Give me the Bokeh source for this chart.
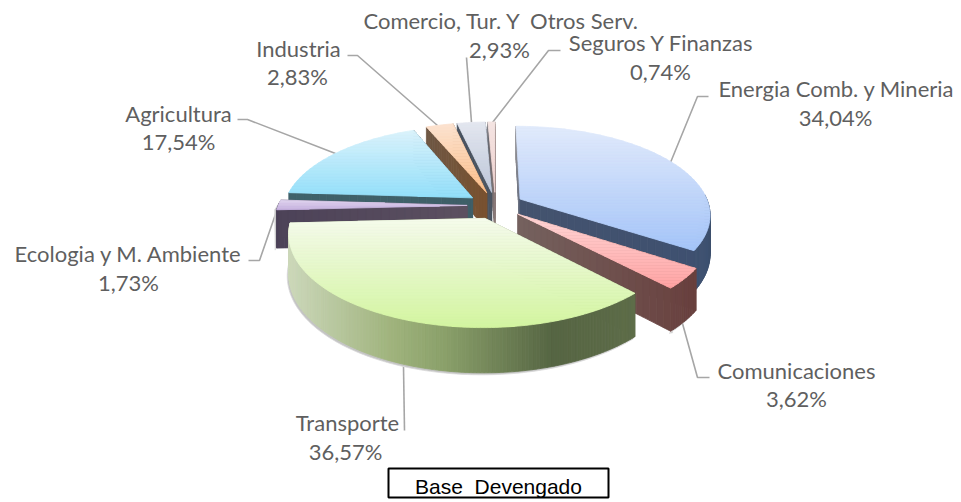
import math
from bokeh.plotting import figure
from bokeh.models import ColumnDataSource
from bokeh.core.properties import value
from bokeh.embed import file_html
from bokeh.resources import INLINE

categories = ["Energia Comb. y Mineria", "Comunicaciones", "Transporte", "Ecologia y M. Ambiente",
              "Agricultura", "Industria", "Comercio, Tur. Y\u00a0 Otros Serv.", "Seguros Y Finanzas"]
shares = [34.04, 3.62, 36.57, 1.73, 17.54, 2.83, 2.93, 0.74]
share_labels = ["34,04%", "3,62%", "36,57%", "1,73%", "17,54%", "2,83%", "2,93%", "0,74%"]
note = "Base\u00a0 Devengado"

# colours: top face gradient (top, bottom), wall gradient stops across the slice's width
top_colors = [("#e1eafb", "#a4c4f8"), ("#ffd6d6", "#ffa3a3"), ("#f5fbec", "#d3f5a0"), ("#e0d4ee", "#c6b2de"),
              ("#dbf2fb", "#92dffa"), ("#fbe2d0", "#fdbf8a"), ("#e4e7ef", "#bcc6d8"), ("#f4e4e2", "#eed0ce")]
wall_colors = [
    [(0, "#8c8c92"), (0.03, "#44536e"), (1, "#3e5070")],
    [(0, "#75625f"), (1, "#69403e")],
    [(0, "#ccd8ba"), (0.3, "#9fb37c"), (0.45, "#8aa06a"), (0.76, "#566543"), (1, "#5e6d49")],
    [(0, "#4c4258"), (1, "#5c5060")],
    [(0, "#3f626b"), (1, "#3f5f68")],
    [(0, "#6e5744"), (1, "#7a5230")],
    [(0, "#47515e"), (1, "#4c5662")],
    [(0, "#6a6a70"), (1, "#8a7a78")],
]
draw_order = [7, 6, 5, 4, 0, 3, 1, 2]

# label placement in page pixels: (name x, name y, share x, share y)
label_pos = [(836, 88, 835, 117), (796, 370, 796, 398), (347, 422, 345, 451), (128, 253, 128, 282),
             (178, 113, 178, 141), (298, 48, 297, 76), (501, 20, 499, 49), (661, 42, 660, 71)]
leaders = [[(708, 96), (697, 96), (670, 162)], [(709, 377), (697, 377), (682, 323)], [(403, 366), (404, 430)],
           [(248, 260), (259, 260), (278, 205)], [(237, 119), (247, 119), (335, 153)],
           [(347, 55), (357, 55), (437, 125)], [(466, 57), (471, 122)], [(560, 50), (548, 50), (492, 122)]]

CX, CY, RX, RY, DEPTH, K, EXPLODE = 495, 205, 189, 90, 38, 0.167, 0.15


def proj(u, v, z=0.0):
    s = 1 + K * v
    return CX + RX * u * s, CY + RY * v * s + DEPTH * z * s


def rgb(h):
    return tuple(int(h[i:i + 2], 16) for i in (1, 3, 5))


def mix(a, b, t):
    ca, cb = rgb(a), rgb(b)
    return "#%02x%02x%02x" % tuple(round(ca[i] + (cb[i] - ca[i]) * t) for i in range(3))


def ramp(stops, t):
    t = max(0, min(1, t))
    for (t0, c0), (t1, c1) in zip(stops, stops[1:]):
        if t <= t1:
            return mix(c0, c1, (t - t0) / max(t1 - t0, 1e-6))
    return stops[-1][1]


def clip(poly, y, keep_below):
    out = []
    for i, a in enumerate(poly):
        b = poly[(i + 1) % len(poly)]
        ia = (a[1] >= y) == keep_below
        ib = (b[1] >= y) == keep_below
        if ia:
            out.append(a)
        if ia != ib:
            t = (y - a[1]) / (b[1] - a[1])
            out.append((a[0] + (b[0] - a[0]) * t, y))
    return out


xs, ys, cols, lcols = [], [], [], []


def add(poly, c, lc=None):
    xs.append([q[0] for q in poly])
    ys.append([q[1] for q in poly])
    cols.append(c)
    lcols.append(lc or c)


total = sum(shares)
starts = []
acc = 0.0
for s in shares:
    starts.append(acc)
    acc += s

for i in draw_order:
    a0 = 2 * math.pi * starts[i] / total
    a1 = 2 * math.pi * (starts[i] + shares[i]) / total
    am = (a0 + a1) / 2
    eu, ev = EXPLODE * math.sin(am), -EXPLODE * math.cos(am)
    n = max(6, int((a1 - a0) * 60))
    angles = [a0 + (a1 - a0) * k / n for k in range(n + 1)]
    rim = [(eu + math.sin(a), ev - math.cos(a)) for a in angles]
    top = [proj(eu, ev)] + [proj(u, v) for u, v in rim]
    xa = [q[0] for q in top]
    x_lo, x_hi = min(xa), max(xa)
    wall = wall_colors[i]

    def wc(x):
        return ramp(wall, (x - x_lo) / max(x_hi - x_lo, 1))

    # soft edge beneath the rim
    front = [r for r, a in zip(rim, angles) if math.cos(a) < 0.05]
    if len(front) > 1:
        low = [proj(u, v, 1) for u, v in front]
        add([(x - 2, y) for x, y in [proj(*front[0])]] + [(x - 1.5, y + 2) for x, y in low]
            + [(low[-1][0] + 2, low[-1][1] + 1.5)] + [proj(*front[-1])], "#c4c4c4", "#dadada")
    # cut walls
    for end in (rim[0], rim[-1]):
        m = 24
        for k in range(m):
            t0, t1 = k / m, (k + 1) / m
            p0 = (eu + (end[0] - eu) * t0, ev + (end[1] - ev) * t0)
            p1 = (eu + (end[0] - eu) * t1, ev + (end[1] - ev) * t1)
            q = [proj(*p0), proj(*p1), proj(*p1, 1), proj(*p0, 1)]
            add(q, wc(sum(c[0] for c in q) / 4))
    # outer wall
    for k in range(n):
        if math.cos((angles[k] + angles[k + 1]) / 2) < 0.05:
            q = [proj(*rim[k]), proj(*rim[k + 1]), proj(*rim[k + 1], 1), proj(*rim[k], 1)]
            add(q, wc(sum(c[0] for c in q) / 4))
    # top face, banded vertically
    ya = [q[1] for q in top]
    y_lo, y_hi = min(ya), max(ya)
    c_top, c_bot = top_colors[i]
    y = y_lo
    while y < y_hi:
        band = clip(clip(top, y, True), y + 3, False)
        if len(band) >= 3:
            add(band, mix(c_top, c_bot, (y + 1.5 - y_lo) / max(y_hi - y_lo, 1)))
        y += 3

p = figure(width=961, height=502, x_range=(0, 961), y_range=(502, 0), output_backend="svg",
           toolbar_location=None, min_border=0, outline_line_color=None, background_fill_color="white")
p.axis.visible = False
p.grid.visible = False

for line in leaders:
    p.line([q[0] for q in line], [q[1] for q in line], line_color="#a6a6a6", line_width=1.6)

p.patches("x", "y", fill_color="c", line_color="l", line_width=0.8,
          source=ColumnDataSource(dict(x=xs, y=ys, c=cols, l=lcols)))

tx = [q[0] for q in label_pos] + [q[2] for q in label_pos]
ty = [q[1] for q in label_pos] + [q[3] for q in label_pos]
tt = categories + share_labels
p.text(tx, ty, text=tt, text_font=value("Lato"), text_font_size="22px", text_color="#5f5f5f",
       text_align="center", text_baseline="middle")

p.quad(left=[388], right=[608], top=[468], bottom=[497], fill_color="white", line_color="black", line_width=2)
p.text([498], [486], text=[note], text_font=value("Liberation Sans"), text_font_size="21px",
       text_color="black", text_align="center", text_baseline="middle")

open("out.html", "w").write(file_html(p, INLINE))
